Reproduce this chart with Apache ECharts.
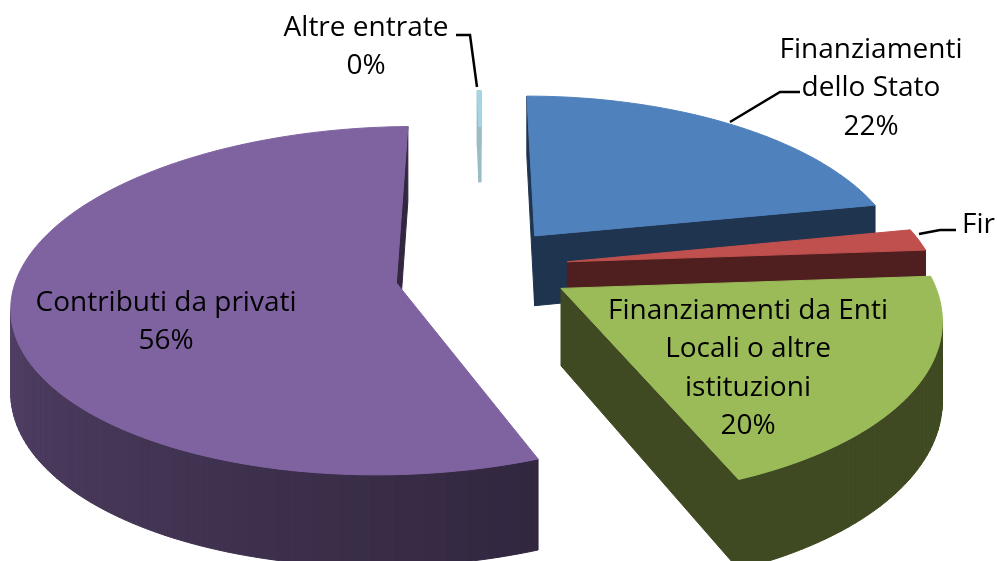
<!DOCTYPE html>
<html>
<head>
<meta charset="utf-8">
<style>
  html, body { margin: 0; padding: 0; background: #fff; }
  #chart { width: 997px; height: 561px; }
</style>
<script src="https://cdn.jsdelivr.net/npm/echarts@6/dist/echarts.min.js"></script>
</head>
<body>
<div id="chart"></div>
<script>
// data
const sliceNames = ['Finanziamenti dello Stato', 'Fir', 'Finanziamenti da Enti Locali o altre istituzioni', 'Contributi da privati', 'Altre entrate'];
const sliceShares = [21.9, 2, 19.9, 55.9, 0.3];

// look of each slice
const topColors = ['#4f81bd', '#c0504d', '#9bbb59', '#7f63a1', '#a5d5e2'];
const wallColors = [['#1f354f', '#1f354f'], ['#4f1f1f', '#4f1f1f'], ['#3f4a23', '#3f4a23'], ['#32273f', '#6d5789'], ['#9bbcc4', '#9bbcc4']];
const explodes = [0.23, 0.23, 0.23, 0.23, 1.08];
const radii = [1, 0.985, 0.99, 1.02, 0.3];
const squash = [0.47, 0.47, 0.465, 0.45, 0.47];
const perspectives = [0.18, 0.18, 0.15, 0.1, 0.18];
const depths = [72, 72, 76, 82, 66];
const shiftX = [2, 3, 7, 1, 3];
const shiftY = [-1, 0, 0, 8, 18];
const skews = [0, 0, 0, 10, 0];

// label text and where it sits
const labelLines = [
  ['Finanziamenti', 'dello Stato', '22%'],
  ['Fir'],
  ['Finanziamenti da Enti', 'Locali o altre', 'istituzioni', '20%'],
  ['Contributi da privati', '56%'],
  ['Altre entrate', '0%']
];
const labelAnchors = [[871, 50], [962, 225], [748, 311], [166, 303], [366, 28]];
const leaderLines = [
  [[800, 92], [780, 92], [730, 122]],
  [[956, 230], [940, 230], [919, 234]],
  [[456, 35], [470, 35], [477, 87]]
];

// projection of the tilted pie
const centerX = 480;
const centerY = 267;
const radius = 372;

const project = (i, u, v, h) => {
  const s = 1 / (1 - perspectives[i] * v);
  return [
    centerX + shiftX[i] - skews[i] * v + u * radius * s,
    centerY + shiftY[i] + v * radius * squash[i] * s + h * s
  ];
};

const total = sliceShares.reduce((a, b) => a + b, 0);

const polygonArea = (pts) => {
  let area = 0;
  pts.forEach((p, i) => {
    const q = pts[(i + 1) % pts.length];
    area += p[0] * q[1] - q[0] * p[1];
  });
  return area / 2;
};

const mix = (a, b, t) => {
  const pa = parseInt(a.slice(1), 16);
  const pb = parseInt(b.slice(1), 16);
  const ch = (shift) => Math.round(((pa >> shift) & 255) * (1 - t) + ((pb >> shift) & 255) * t);
  return 'rgb(' + ch(16) + ',' + ch(8) + ',' + ch(0) + ')';
};

const renderSlice = (params, api) => {
  const i = params.dataIndex;
  let before = 0;
  for (let n = 0; n < i; n++) before += sliceShares[n];
  const start = before / total * Math.PI * 2;
  const end = (before + api.value(0)) / total * Math.PI * 2;
  const mid = (start + end) / 2;
  const ex = explodes[i] * Math.sin(mid);
  const ey = -explodes[i] * Math.cos(mid);
  const r = radii[i];

  const steps = Math.max(2, Math.round((end - start) * 40));
  const rim = [];
  for (let n = 0; n <= steps; n++) {
    const a = start + (end - start) * n / steps;
    rim.push([ex + r * Math.sin(a), ey - r * Math.cos(a)]);
  }
  const apexTop = project(i, ex, ey, 0);
  const apexBottom = project(i, ex, ey, depths[i]);
  const top = (p) => project(i, p[0], p[1], 0);
  const bottom = (p) => project(i, p[0], p[1], depths[i]);

  const children = [];
  // the almost empty slice is only a sliver, give it some width
  const thin = end - start < 0.05;
  const edge = thin ? 3 : 1;
  const addWall = (pts, color) => {
    // only walls turned towards the camera are drawn
    if (polygonArea(pts) > 0 || thin) {
      children.push({
        type: 'polygon',
        shape: { points: pts },
        style: { fill: color, stroke: color, lineWidth: edge }
      });
    }
  };

  const first = rim[0];
  const last = rim[rim.length - 1];
  addWall([apexTop, apexBottom, bottom(first), top(first)], wallColors[i][0]);
  addWall([top(last), bottom(last), apexBottom, apexTop], wallColors[i][0]);
  for (let n = 0; n < steps; n++) {
    const color = mix(wallColors[i][0], wallColors[i][1], n / (steps - 1));
    addWall([top(rim[n]), bottom(rim[n]), bottom(rim[n + 1]), top(rim[n + 1])], color);
  }

  children.push({
    type: 'polygon',
    shape: { points: [apexTop].concat(rim.map(top)) },
    style: { fill: topColors[i], stroke: topColors[i], lineWidth: edge }
  });
  return { type: 'group', children };
};

const labelGraphics = [];
labelLines.forEach((lines, i) => {
  lines.forEach((line, n) => {
    labelGraphics.push({
      type: 'text',
      z: 10,
      x: labelAnchors[i][0],
      y: labelAnchors[i][1] + n * 38.5,
      style: {
        text: line,
        font: '28px "Open Sans"',
        fill: '#000',
        align: i === 1 ? 'left' : 'center',
        verticalAlign: 'middle'
      }
    });
  });
});
leaderLines.forEach((points) => {
  labelGraphics.push({
    type: 'polyline',
    z: 9,
    shape: { points },
    style: { stroke: '#000', lineWidth: 2.5, fill: null }
  });
});

const chart = echarts.init(document.getElementById('chart'), null, { renderer: 'canvas' });
chart.setOption({
  animation: false,
  backgroundColor: '#fff',
  series: [{
    type: 'custom',
    coordinateSystem: 'none',
    silent: true,
    renderItem: renderSlice,
    data: sliceShares.map((value, i) => ({ name: sliceNames[i], value: [value] }))
  }],
  graphic: labelGraphics
});
</script>
</body>
</html>
